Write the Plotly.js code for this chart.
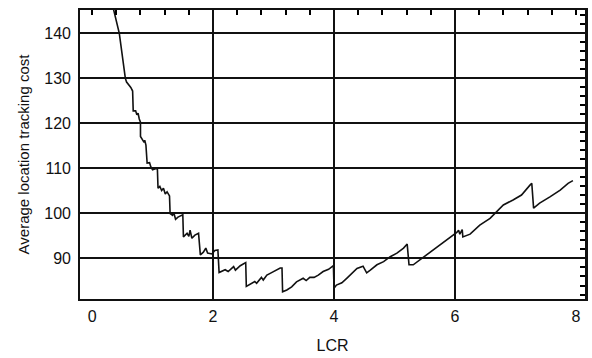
<!DOCTYPE html>
<html>
<head>
<meta charset="utf-8">
<script src="https://cdn.plot.ly/plotly-3.0.1.min.js"></script>
<style>
html,body{margin:0;padding:0;background:#fff;}
#chart{width:592px;height:358px;}
</style>
</head>
<body>
<div id="chart"></div>
<script>
// LCR values (x)
const lcr = [0.35,0.45,0.55,0.57,0.64,0.67,0.68,0.72,0.74,0.76,0.78,0.80,0.80,0.83,0.86,0.87,0.89,0.91,0.95,0.97,
  1.00,1.06,1.08,1.09,1.12,1.15,1.18,1.21,1.24,1.28,1.29,1.33,1.35,1.38,1.42,1.50,1.51,1.57,1.60,1.62,
  1.65,1.70,1.76,1.79,1.84,1.88,1.91,1.98,2.03,2.08,2.10,2.20,2.25,2.34,2.37,2.45,2.54,2.55,2.64,2.69,
  2.72,2.80,2.83,2.89,2.96,3.11,3.14,3.15,3.22,3.30,3.38,3.44,3.49,3.54,3.60,3.67,3.74,3.82,3.91,3.99,
  4.00,4.04,4.13,4.21,4.29,4.38,4.48,4.54,4.60,4.71,4.82,4.93,5.04,5.15,5.21,5.24,5.31,5.42,5.53,5.64,
  5.75,5.86,5.97,6.03,6.06,6.08,6.12,6.13,6.25,6.41,6.58,6.69,6.80,6.96,7.10,7.24,7.27,7.30,7.40,7.57,
  7.74,7.87,7.95];
// Average location tracking cost (y)
const cost = [145.6,140.0,130.0,129.2,128.0,127.2,122.8,122.8,121.9,122.3,121.0,120.3,117.1,116.5,115.8,116.3,115.2,111.2,111.3,110.4,
  109.7,110.0,109.8,105.6,106.0,105.1,105.6,104.3,104.8,103.9,100.0,99.6,100.2,98.7,99.2,99.7,94.8,95.6,94.9,96.3,
  94.5,95.2,95.6,90.8,91.4,92.3,91.2,91.0,91.8,91.9,86.9,87.5,87.1,88.2,87.4,88.4,89.1,83.8,84.5,84.9,
  84.5,85.8,85.2,86.3,86.8,87.9,87.9,82.6,83.0,83.7,84.8,85.2,85.6,85.1,85.8,85.8,86.3,87.1,87.6,88.4,
  83.4,84.1,84.6,85.6,86.7,87.8,88.3,86.8,87.4,88.6,89.3,90.4,91.2,92.3,93.2,88.6,88.6,89.7,90.8,91.9,
  93.0,94.1,95.0,95.8,96.3,95.4,96.4,94.8,95.4,97.4,98.9,100.4,101.9,103.0,104.1,106.3,106.7,101.2,102.3,103.7,
  105.2,106.7,107.3];

const xTicks = [0, 2, 4, 6, 8];
const xGridTicks = [2, 4, 6];
const yTicks = [90, 100, 110, 120, 130, 140];
// positions of the small frame ticks (top edge every 0.4, right edge every 2)
const xMinorTicks = [0, 0.4, 0.8, 1.2, 1.6, 2.4, 2.8, 3.2, 3.6, 4.4, 4.8, 5.2, 5.6, 6.4, 6.8, 7.2, 7.6, 8.0];
const yMinorTicks = [82, 84, 86, 88, 92, 94, 96, 98, 102, 104, 106, 108, 112, 114, 116, 118, 122, 124, 126, 128, 132, 134, 136, 138, 142, 144];

const FONT = "'Liberation Sans Narrow', 'Arial Narrow', 'Liberation Sans', Arial, sans-serif";
const xRange = [-0.2, 8.15];
const yRange = [81, 145.2];

const data = [
  {x: [], y: [], type: 'scatter', mode: 'lines', xaxis: 'x2', yaxis: 'y', showlegend: false, hoverinfo: 'skip'},
  {x: [], y: [], type: 'scatter', mode: 'lines', xaxis: 'x3', yaxis: 'y', showlegend: false, hoverinfo: 'skip'},
  {x: [], y: [], type: 'scatter', mode: 'lines', xaxis: 'x', yaxis: 'y2', showlegend: false, hoverinfo: 'skip'},
  {x: lcr, y: cost, type: 'scatter', mode: 'lines', xaxis: 'x', yaxis: 'y',
   line: {color: '#111', width: 1.6}, hoverinfo: 'skip', showlegend: false}
];

const layout = {
  width: 592, height: 358,
  margin: {l: 80, r: 7, t: 10, b: 59},
  paper_bgcolor: '#fff', plot_bgcolor: '#fff',
  font: {family: FONT, color: '#111', size: 16},
  showlegend: false,
  // main x axis: top edge, small inside ticks
  xaxis: {
    type: 'linear', side: 'top', range: xRange,
    tickmode: 'array', tickvals: xMinorTicks, ticks: 'inside', ticklen: 5, tickwidth: 2, tickcolor: '#000',
    showticklabels: false, showgrid: false, zeroline: false,
    showline: true, linecolor: '#111', linewidth: 2, mirror: true
  },
  // bottom labelled axis
  xaxis2: {
    type: 'linear', overlaying: 'x', side: 'bottom', anchor: 'y', range: xRange,
    tickmode: 'array', tickvals: xTicks, ticktext: xTicks.map(String), ticks: '',
    showgrid: false, zeroline: false, showline: false,
    tickfont: {family: FONT, size: 16, color: '#111'}, ticklabelstandoff: 6,
    title: {text: 'LCR', font: {family: FONT, size: 16, color: '#111'}, standoff: 15}
  },
  // vertical grid lines
  xaxis3: {
    type: 'linear', overlaying: 'x', anchor: 'y', range: xRange,
    tickmode: 'array', tickvals: xGridTicks, ticks: '', showticklabels: false,
    showgrid: true, gridcolor: '#111', gridwidth: 2, zeroline: false, showline: false
  },
  // main y axis: right edge, small inside ticks
  yaxis: {
    type: 'linear', side: 'right', range: yRange,
    tickmode: 'array', tickvals: yMinorTicks, ticks: 'inside', ticklen: 5, tickwidth: 2, tickcolor: '#000',
    showticklabels: false, showgrid: false, zeroline: false,
    showline: true, linecolor: '#111', linewidth: 2.5, mirror: true
  },
  // left labelled axis with horizontal grid
  yaxis2: {
    type: 'linear', overlaying: 'y', side: 'left', anchor: 'x', range: yRange,
    tickmode: 'array', tickvals: yTicks, ticktext: yTicks.map(String), ticks: '',
    showgrid: true, gridcolor: '#111', gridwidth: 2, zeroline: false, showline: false,
    tickfont: {family: FONT, size: 16, color: '#111'}, ticklabelstandoff: 8,
    title: {text: 'Average location tracking cost', font: {family: FONT, size: 15, color: '#111'}, standoff: 11}
  }
};

Plotly.newPlot('chart', data, layout, {staticPlot: true, displayModeBar: false});
</script>
</body>
</html>
